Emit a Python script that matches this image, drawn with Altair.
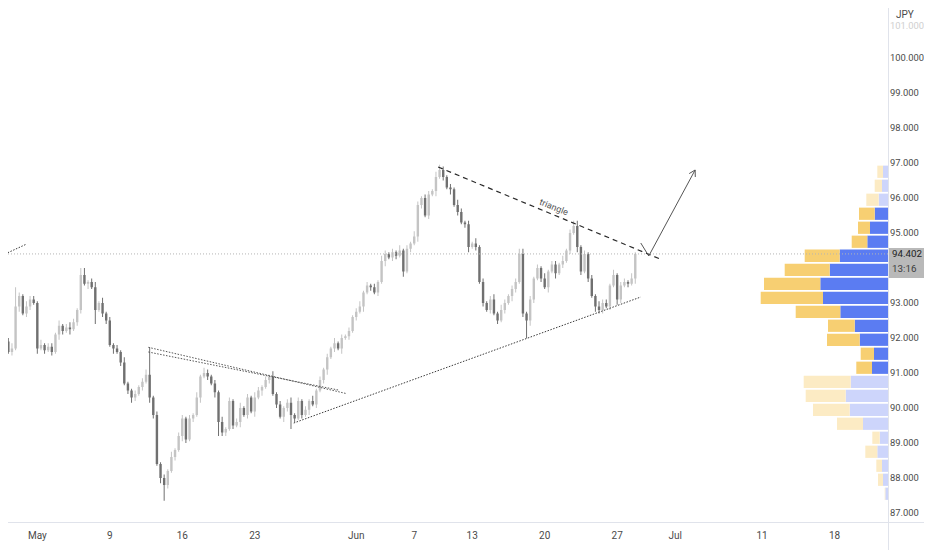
import altair as alt
import pandas as pd

# ---------------- data ----------------
# 6h candles, x measured in trading days (Mon 9 May = 0)
first_open = 91.9
closes = [91.6, 91.7, 92.9, 93.2, 92.7, 92.9, 93.1, 93.0, 91.7, 91.8,
          91.65, 91.75, 91.6, 92.1, 92.35, 92.2, 92.3, 92.25, 92.45, 92.8,
          93.8, 93.55, 93.6, 93.45, 92.8, 93.0, 92.7, 92.5, 91.8, 91.7,
          91.6, 91.3, 90.7, 90.5, 90.3, 90.4, 90.6, 90.75, 90.95, 90.3,
          89.8, 88.4, 88.0, 87.8, 88.2, 88.6, 88.8, 89.2, 89.7, 89.1,
          89.7, 89.8, 90.3, 90.9, 91.0, 90.9, 90.7, 90.45, 89.6, 89.3,
          89.4, 90.2, 89.5, 89.6, 90.0, 89.8, 90.3, 89.9, 90.3, 90.5,
          90.6, 90.8, 90.9, 90.4, 90.1, 89.75, 90.0, 90.15, 89.8, 89.7,
          90.2, 89.8, 89.95, 90.2, 90.1, 90.5, 90.8, 91.1, 91.45, 91.7,
          91.85, 91.7, 92.0, 92.05, 92.2, 92.6, 92.75, 92.9, 93.3, 93.5,
          93.45, 93.3, 93.6, 94.2, 94.4, 94.3, 94.45, 94.35, 94.5, 93.9,
          94.55, 94.7, 94.9, 95.8, 96.0, 95.5, 96.1, 96.2, 96.6, 96.8,
          96.6, 96.3, 96.25, 95.8, 95.6, 95.3, 95.25, 94.6, 94.7, 94.6,
          93.6, 93.0, 92.8, 93.1, 92.7, 92.5, 92.8, 93.0, 93.2, 93.4,
          93.6, 94.4, 92.7, 92.5, 93.1, 93.7, 94.0, 93.7, 93.45, 93.9,
          94.1, 93.85, 94.1, 94.2, 94.5, 95.0, 95.2, 94.6, 93.9, 94.4,
          93.7, 93.2, 92.9, 92.8, 93.0, 92.9, 93.5, 93.8, 93.1, 93.5,
          93.6, 93.55, 93.7, 94.402]
# wick lengths beyond the body, in steps of 0.05
wick_up = "".join(["2312132213", "1221312321", "1412213121", "2131121232", "1212131221",
                   "2131321213", "1212312132", "1213121231", "2121312121", "3121212312",
                   "1213212131", "2132122131", "2121321213", "1212313212", "2131212131",
                   "2213121312", "1213221312", "2131"])
wick_dn = "".join(["1213122131", "2121321312", "2131212213", "1212321213", "2131212132",
                   "1213121312", "2121312131", "3121213212", "1213121231", "2131212131",
                   "2121312213", "1213212131", "2131212312", "1212131213", "2121321213",
                   "1312121321", "2131212132", "1213"])
high_fix = {2: 93.45, 20: 94.0, 24: 93.6, 39: 91.74, 55: 91.1, 119: 96.95,
            141: 94.55, 156: 95.35, 173: 94.45}
low_fix = {24: 92.4, 43: 87.35, 58: 89.2, 78: 89.4, 135: 92.4, 143: 92.0, 163: 92.7}
first_day = -7.0
bars_per_day = 4

tick_days = [-5, 0, 5, 10, 17, 21, 25, 30, 35, 39, 45, 50]
tick_names = ["May", "9", "16", "23", "Jun", "7", "13", "20", "27", "Jul", "11", "18"]
# 94.000 sits under the last-price tag, so it is not shown
price_ticks = [87, 88, 89, 90, 91, 92, 93, 95, 96, 97, 98, 99, 100]
faded_tick = 101
currency = "JPY"

# visible-range volume profile, rows from top (bin 0.4)
vp_top = 96.95
vp_step = 0.4
vp_up = [5, 6, 9.3, 13.3, 18, 20.7, 48.3, 58.3, 67.7, 65, 47.7, 33.3,
         28.3, 14, 16, 37.3, 42.3, 38.3, 25, 8.3, 10.7, 6, 5, 2.7]
vp_dn = [5.7, 7.3, 12.4, 15.7, 12, 15.6, 35, 45, 56.3, 62.3, 44.6, 26.7,
         32.7, 13.3, 15.7, 47, 40, 36.7, 26, 7.4, 12, 5.7, 5, 0.6]
vp_value_area = (3, 14)

# drawings (trading day, price)
seg_dashed = {"tri": [(22.65, 96.886), (38.13, 94.229)]}
seg_dotted = {"low": [(12.69, 89.571), (36.63, 93.171)],
              "old": [(-7.23, 94.40), (-5.73, 94.686)]}
seg_wedge = {"w1": [(2.66, 91.734), (16.30, 90.414)],
             "w2": [(2.66, 91.60), (15.76, 90.514)]}
seg_arrow = {"a": [(36.63, 94.714), (37.18, 94.343), (40.38, 96.80)],
             "h1": [(39.97, 96.697), (40.38, 96.80)],
             "h2": [(40.39, 96.60), (40.38, 96.80)]}
tri_label = (30.63, 95.74, "triangle")
last_price = closes[-1]
countdown = "13:16"

# ---------------- tables ----------------
rows = []
o = first_open
for i, c in enumerate(closes):
    wu = int(wick_up[i]) * 0.05 if i < len(wick_up) else 0.05
    wd = int(wick_dn[i]) * 0.05 if i < len(wick_dn) else 0.05
    h = max(high_fix.get(i, max(o, c) + wu), o, c)
    l = min(low_fix.get(i, min(o, c) - wd), o, c)
    rows.append({"d": first_day + i / bars_per_day, "open": o, "close": c,
                 "high": h, "low": l, "dir": "up" if c >= o else "down"})
    o = c
cdf = pd.DataFrame(rows)

vrows = []
gap = 0.025
for k, (u, dn) in enumerate(zip(vp_up, vp_dn)):
    shade = "va" if vp_value_area[0] <= k <= vp_value_area[1] else "out"
    top = vp_top - vp_step * k - gap
    bot = vp_top - vp_step * (k + 1) + gap
    vrows.append({"v0": 0, "v1": u, "top": top, "bot": bot, "key": "up_" + shade})
    vrows.append({"v0": u, "v1": u + dn, "top": top, "bot": bot, "key": "dn_" + shade})
vdf = pd.DataFrame(vrows)


def seg_df(segs):
    r = []
    for name, pts in segs.items():
        for j, (d, p) in enumerate(pts):
            r.append({"seg": name, "d": d, "p": p, "o": j})
    return pd.DataFrame(r)


FONT = "Roboto, sans-serif"
TXT = "#4a4a4a"
LINE = "#e0e3eb"
xdom = [-7.23, 53.34]
ydom = [86.743, 101.657]
xs = alt.Scale(domain=xdom, nice=False, zero=False)
ys = alt.Scale(domain=ydom, nice=False, zero=False)
ccol = alt.Color("dir:N", scale=alt.Scale(domain=["up", "down"], range=["#c4c4c4", "#707070"]),
                 legend=None)
one = pd.DataFrame({"a": [0]})

sep_v = alt.Chart(one).mark_rule(color=LINE, strokeWidth=1).encode(
    x=alt.value(888.5), y=alt.value(0), y2=alt.value(560))
sep_h = alt.Chart(one).mark_rule(color=LINE, strokeWidth=1).encode(
    x=alt.value(0), x2=alt.value(940), y=alt.value(522.5))

wicks = alt.Chart(cdf).mark_rule(strokeWidth=1).encode(
    x=alt.X("d:Q", scale=xs, axis=None),
    y=alt.Y("low:Q", scale=ys, axis=None),
    y2="high:Q",
    color=ccol,
)
bodies = alt.Chart(cdf).mark_bar(size=2.4).encode(
    x=alt.X("d:Q", scale=xs, axis=None),
    y=alt.Y("open:Q", scale=ys, axis=None),
    y2="close:Q",
    color=ccol,
)
price_line = alt.Chart(pd.DataFrame({"p": [last_price]})).mark_rule(
    strokeDash=[1, 2], color="#b4b4b4", strokeWidth=1).encode(
    y=alt.Y("p:Q", scale=ys, axis=None))


def lines(segs, **kw):
    return alt.Chart(seg_df(segs)).mark_line(**kw).encode(
        x=alt.X("d:Q", scale=xs, axis=None),
        y=alt.Y("p:Q", scale=ys, axis=None),
        detail="seg:N", order="o:Q")


dashed = lines(seg_dashed, color="#2a2a2a", strokeWidth=1.2, strokeDash=[5, 4])
dotted = lines(seg_dotted, color="#3a3a3a", strokeWidth=1, strokeDash=[1.5, 1.5])
wedge = lines(seg_wedge, color="#555555", strokeWidth=1, strokeDash=[1.5, 1.5])
arrow = lines(seg_arrow, color="#555555", strokeWidth=1)

tri_txt = alt.Chart(pd.DataFrame({"d": [tri_label[0]], "p": [tri_label[1]], "t": [tri_label[2]]})).mark_text(
    angle=22, fontSize=9, color="#555555", font=FONT).encode(
    x=alt.X("d:Q", scale=xs, axis=None), y=alt.Y("p:Q", scale=ys, axis=None), text="t:N")

time_txt = alt.Chart(pd.DataFrame({"d": tick_days, "t": tick_names})).mark_text(
    fontSize=10, color=TXT, font=FONT, baseline="middle").encode(
    x=alt.X("d:Q", scale=xs, axis=None), y=alt.value(536), text="t:N")

ytick_df = pd.DataFrame({"p": price_ticks, "t": [f"{v:.3f}" for v in price_ticks]})
ytick_txt = alt.Chart(ytick_df).mark_text(
    align="left", baseline="middle", fontSize=9.4, color=TXT, font=FONT).encode(
    x=alt.value(890), y=alt.Y("p:Q", scale=ys, axis=None), text="t:N")

faded_txt = alt.Chart(pd.DataFrame({"p": [faded_tick], "t": [f"{faded_tick:.3f}"]})).mark_text(
    align="left", baseline="middle", fontSize=9.4, color="#cfcfcf", font=FONT, dy=3).encode(
    x=alt.value(890), y=alt.Y("p:Q", scale=ys, axis=None), text="t:N")

box_df = pd.DataFrame({"top": [last_price + 0.17], "bot": [last_price - 0.69],
                       "p": [last_price], "t": [f"{last_price:.3f}"], "c": [countdown]})
box = alt.Chart(box_df).mark_rect(color="#b9b9b9").encode(
    x=alt.value(889), x2=alt.value(924),
    y=alt.Y("top:Q", scale=ys, axis=None), y2="bot:Q")
box_t1 = alt.Chart(box_df).mark_text(align="left", baseline="middle", fontSize=9.8,
                                     color="#1e1e1e", font=FONT).encode(
    x=alt.value(892), y=alt.Y("p:Q", scale=ys, axis=None), text="t:N")
box_t2 = alt.Chart(box_df).mark_text(align="left", baseline="middle", fontSize=9.8,
                                     color="#3c3c3c", font=FONT, dy=15).encode(
    x=alt.value(892), y=alt.Y("p:Q", scale=ys, axis=None), text="c:N")
jpy = alt.Chart(pd.DataFrame({"t": [currency]})).mark_text(
    align="left", baseline="middle", fontSize=10, color=TXT, font=FONT).encode(
    x=alt.value(896), y=alt.value(15), text="t:N")

profile = alt.Chart(vdf).mark_bar().encode(
    x=alt.X("v0:Q", scale=alt.Scale(domain=[0, 888], reverse=True, nice=False, zero=False), axis=None),
    x2="v1:Q",
    y=alt.Y("top:Q", scale=ys, axis=None),
    y2="bot:Q",
    color=alt.Color("key:N", scale=alt.Scale(
        domain=["up_va", "dn_va", "up_out", "dn_out"],
        range=["#5b7cf2", "#f7cf72", "#cdd5fb", "#fcebc4"]), legend=None),
)

main = alt.layer(sep_v, sep_h, wicks, bodies, price_line, dashed, dotted, wedge, arrow, tri_txt,
                 time_txt, ytick_txt, faded_txt, jpy, box, box_t1, box_t2)
chart = alt.layer(alt.layer(profile), main).resolve_scale(x="independent", color="independent").properties(
    width=888, height=522,
    autosize=alt.AutoSizeParams(type="none"),
    padding={"left": -8, "top": -8, "right": 36, "bottom": 36},
    background="white",
).configure_view(stroke=None)

chart.save("out.html", embed_options={"renderer": "svg", "actions": False})
